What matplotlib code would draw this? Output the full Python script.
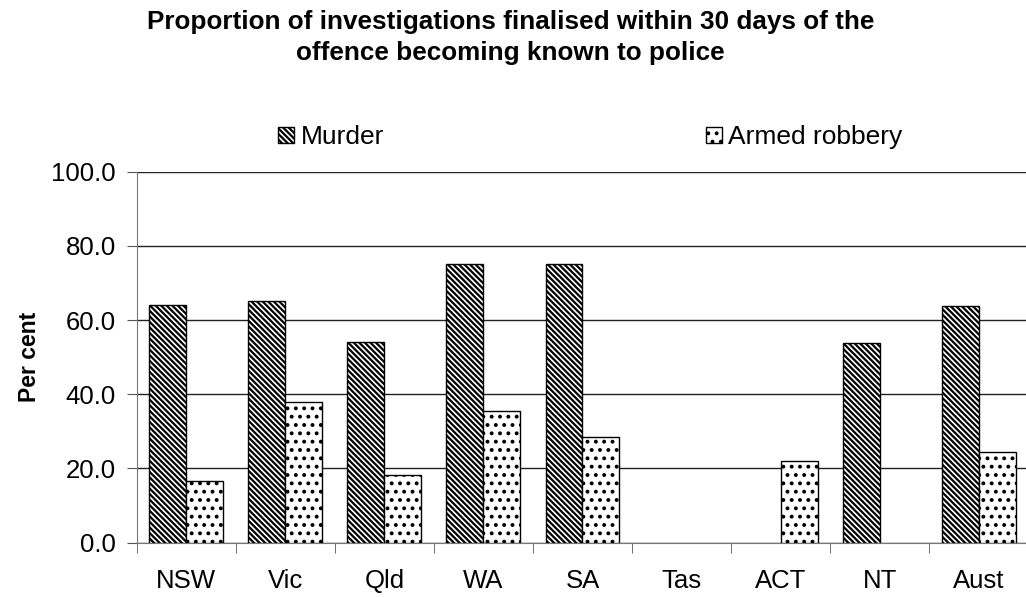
import numpy as np
import matplotlib
matplotlib.use('Agg')
import matplotlib.pyplot as plt

plt.rcParams['font.family'] = ['Liberation Sans', 'DejaVu Sans']
plt.rcParams['hatch.linewidth'] = 1.6

states = ['NSW', 'Vic', 'Qld', 'WA', 'SA', 'Tas', 'ACT', 'NT', 'Aust']
murder = [64.0, 65.2, 54.0, 75.0, 75.0, 0, 0, 53.7, 63.7]
robbery = [16.6, 37.9, 18.2, 35.5, 28.6, 0, 22.1, 0, 24.5]
yticks = [0, 20, 40, 60, 80, 100]

fig = plt.figure(figsize=(10.26, 5.97), dpi=100)
ax = fig.add_axes([0.1332, 0.091, 0.869, 0.6214])

x = np.arange(len(states))
w = 0.373
m = [v if v > 0 else np.nan for v in murder]
r = [v if v > 0 else np.nan for v in robbery]
b1 = ax.bar(x - w/2, m, w, color='white', edgecolor='black', hatch='\\' * 6, linewidth=1, label='Murder', zorder=3)
b2 = ax.bar(x + w/2, r, w, color='white', edgecolor='black', hatch='..', linewidth=1, label='Armed robbery', zorder=3)

ax.set_xlim(-0.5, len(states) - 0.5)
ax.set_ylim(0, 100)
ax.set_yticks(yticks)
ax.set_yticklabels(['%.1f' % t for t in yticks], fontsize=18.5)
ax.set_xticks(x)
ax.set_xticklabels(states, fontsize=18.5)
ax.set_xticks(np.arange(-0.5, len(states)), minor=True)
ax.tick_params(axis='x', which='major', length=0, pad=19)
ax.tick_params(axis='x', which='minor', length=7, color='#555555', direction='out')
ax.tick_params(axis='y', length=7, color='#555555', direction='out', pad=8)
ax.grid(axis='y', color='#222222', linewidth=1, zorder=0)
ax.set_axisbelow(True)
for s in ['top', 'right']:
    ax.spines[s].set_visible(False)
ax.spines['left'].set_color('#777777')
ax.spines['bottom'].set_color('#777777')

ax.set_ylabel('Per cent', fontsize=16.5, fontweight='bold', labelpad=7.5)

fig.text(0.4976, 0.937, 'Proportion of investigations finalised within 30 days of the\noffence becoming known to police',
         ha='center', va='center', fontsize=18.8, fontweight='bold', linespacing=1.35)

fig.legend(handles=[b1, b2], loc='center', bbox_to_anchor=(0.5755, 0.77), ncol=2, frameon=False,
           fontsize=19, columnspacing=12.2, handlelength=0.6, handleheight=0.6, handletextpad=0.25)

plt.savefig('out.png', dpi=100)
